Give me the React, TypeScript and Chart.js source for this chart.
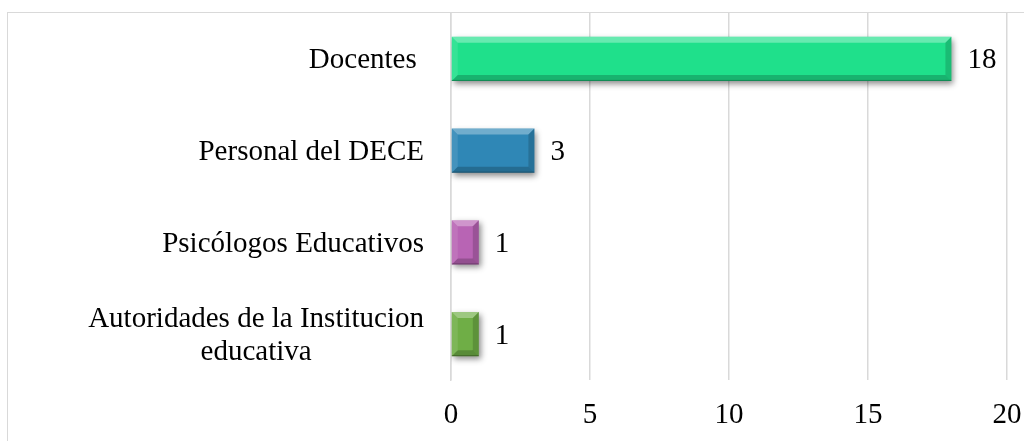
import React, { useEffect, useRef } from "react";
import { Chart, registerables } from "chart.js";

Chart.register(...registerables);

const categories: (string | string[])[] = [
  "Docentes ",
  "Personal del DECE",
  "Psicólogos Educativos",
  ["Autoridades de la Institucion", "educativa"],
];
const values = [18, 3, 1, 1];
const barColors = ["#1fe08b", "#2f87b6", "#b864b4", "#6fae46"];
const xMin = 0;
const xMax = 20;
const xStep = 5;

const FONT_FAMILY = '"Liberation Serif", "Times New Roman", serif';
const FONT_SIZE = 29;

const shadowPlugin = {
  id: "barShadow",
  beforeDatasetsDraw(chart: any) {
    const ctx = chart.ctx;
    ctx.save();
    ctx.shadowColor = "rgba(0,0,0,0.45)";
    ctx.shadowBlur = 6;
    ctx.shadowOffsetX = 2;
    ctx.shadowOffsetY = 3;
  },
  afterDatasetsDraw(chart: any) {
    const ctx = chart.ctx;
    ctx.restore();
    const meta = chart.getDatasetMeta(0);
    meta.data.forEach((bar: any) => {
      const left = Math.min(bar.base, bar.x);
      const right = Math.max(bar.base, bar.x);
      const top = bar.y - bar.height / 2;
      const bottom = bar.y + bar.height / 2;
      const w = right - left;
      const h = bottom - top;
      const b = Math.min(6, w / 2, h / 2);
      const poly = (pts: number[][], color: string) => {
        ctx.beginPath();
        ctx.moveTo(pts[0][0], pts[0][1]);
        for (let i = 1; i < pts.length; i++) ctx.lineTo(pts[i][0], pts[i][1]);
        ctx.closePath();
        ctx.fillStyle = color;
        ctx.fill();
      };
      ctx.save();
      poly([[left, top], [right, top], [right - b, top + b], [left + b, top + b]], "rgba(255,255,255,0.32)");
      poly([[left, top], [left + b, top + b], [left + b, bottom - b], [left, bottom]], "rgba(255,255,255,0.1)");
      poly([[right, top], [right, bottom], [right - b, bottom - b], [right - b, top + b]], "rgba(0,0,0,0.16)");
      poly([[left, bottom], [left + b, bottom - b], [right - b, bottom - b], [right, bottom]], "rgba(0,0,0,0.2)");
      ctx.strokeStyle = "rgba(0,0,0,0.25)";
      ctx.lineWidth = 1;
      ctx.beginPath();
      ctx.moveTo(left, bottom - 0.5);
      ctx.lineTo(right, bottom - 0.5);
      ctx.stroke();
      ctx.restore();
    });
  },
};

const labelsPlugin = {
  id: "customLabels",
  afterDraw(chart: any) {
    const ctx = chart.ctx;
    const yScale = chart.scales.y;
    const meta = chart.getDatasetMeta(0);
    ctx.save();
    ctx.font = `${FONT_SIZE}px ${FONT_FAMILY}`;
    ctx.fillStyle = "#000";
    ctx.textBaseline = "middle";
    const rightEdge = chart.chartArea.left - 27;
    const lineH = 33.5;
    (chart.data.labels as any[]).forEach((lab, i) => {
      const lines: string[] = Array.isArray(lab) ? lab : [lab];
      const widest = Math.max(...lines.map((l) => ctx.measureText(l).width));
      const cx = rightEdge - widest / 2;
      const cy = yScale.getPixelForValue(i) + 2;
      ctx.textAlign = "center";
      lines.forEach((l, j) => {
        const y = cy + (j - (lines.length - 1) / 2) * lineH;
        ctx.fillText(l, cx, y);
      });
    });
    ctx.textAlign = "left";
    meta.data.forEach((bar: any, i: number) => {
      ctx.fillText(String(chart.data.datasets[0].data[i]), bar.x + 16, bar.y + 2);
    });
    ctx.restore();
  },
};

export default function App() {
  const canvasRef = useRef<HTMLCanvasElement | null>(null);

  useEffect(() => {
    if (!canvasRef.current) return;
    const chart = new Chart(canvasRef.current, {
      type: "bar",
      data: {
        labels: categories as any,
        datasets: [
          {
            data: values,
            backgroundColor: barColors,
            borderWidth: 0,
            barPercentage: 0.48,
            categoryPercentage: 1,
          },
        ],
      },
      options: {
        indexAxis: "y",
        responsive: false,
        animation: false,
        devicePixelRatio: 1,
        layout: { padding: { top: 13, left: 0, right: 17, bottom: 0 } },
        plugins: {
          legend: { display: false },
          tooltip: { enabled: false },
          title: { display: false },
        },
        scales: {
          x: {
            min: xMin,
            max: xMax,
            ticks: {
              stepSize: xStep,
              color: "#000",
              padding: 18,
              font: { family: FONT_FAMILY, size: FONT_SIZE },
            },
            grid: { color: "#d9d9d9", lineWidth: 1.5, drawTicks: false },
            border: { display: false },
            afterFit: (axis: any) => {
              axis.height = 61;
              axis.paddingRight = 0;
              axis.paddingLeft = 0;
            },
          },
          y: {
            ticks: { display: false },
            grid: { display: false, drawTicks: false },
            border: { display: true, color: "#d9d9d9", width: 1.5 },
            afterFit: (axis: any) => {
              axis.width = 451;
            },
          },
        },
      },
      plugins: [shadowPlugin, labelsPlugin],
    });
    return () => chart.destroy();
  }, []);

  return (
    <div style={{ position: "fixed", left: 0, top: 0, width: 1024, height: 441, background: "#fff", overflow: "hidden" }}>
      <div
        style={{
          position: "absolute",
          left: 7,
          top: 12,
          width: 1100,
          height: 500,
          borderLeft: "1.5px solid #d9d9d9",
          borderTop: "1.5px solid #d9d9d9",
        }}
      />
      <canvas ref={canvasRef} width={1024} height={441} style={{ position: "absolute", left: 0, top: 0 }} />
    </div>
  );
}
